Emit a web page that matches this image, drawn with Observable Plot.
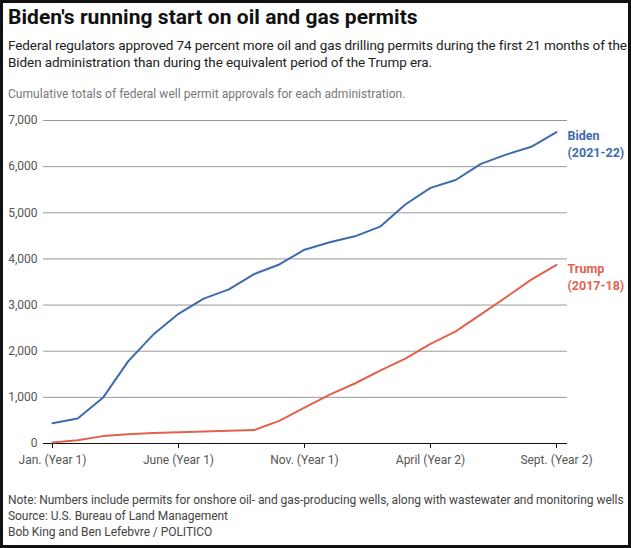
<!DOCTYPE html>
<html>
<head>
<meta charset="utf-8">
<script src="https://cdn.jsdelivr.net/npm/d3@7"></script>
<script src="https://cdn.jsdelivr.net/npm/@observablehq/plot@0.6"></script>
<style>
  html, body { margin: 0; padding: 0; background: #fff; }
  #frame { position: relative; width: 631px; height: 548px; box-sizing: border-box; border: 3px solid #111; overflow: hidden; font-family: Roboto, "Noto Sans", sans-serif; }
  .t { position: absolute; left: 5px; white-space: nowrap; }
  #title { top: 2px; font-size: 21px; font-weight: 700; color: #111; letter-spacing: 0.05px; }
  #sub { top: 34px; font-size: 13.5px; line-height: 17px; color: #222; letter-spacing: -0.08px; }
  #cap { top: 84px; font-size: 12px; color: #777; letter-spacing: 0.05px; }
  #chart { position: absolute; left: -3px; top: 99px; width: 631px; height: 373px; }
  #chart svg { max-width: none !important; display: block; }
  #foot { top: 489px; font-size: 12px; line-height: 16px; color: #444; letter-spacing: -0.05px; }
</style>
</head>
<body>
<div id="frame">
  <div class="t" id="title">Biden's running start on oil and gas permits</div>
  <div class="t" id="sub">Federal regulators approved 74 percent more oil and gas drilling permits during the first 21 months of the<br>Biden administration than during the equivalent period of the Trump era.</div>
  <div class="t" id="cap">Cumulative totals of federal well permit approvals for each administration.</div>
  <div id="chart"></div>
  <div class="t" id="foot">Note: Numbers include permits for onshore oil- and gas-producing wells, along with wastewater and monitoring wells<br>Source: U.S. Bureau of Land Management<br>Bob King and Ben Lefebvre / POLITICO</div>
</div>
<script>
const months = d3.range(21); // Jan. (Year 1) .. Sept. (Year 2)
const biden = [440, 540, 990, 1780, 2360, 2810, 3140, 3340, 3670, 3880, 4200, 4360, 4490, 4700, 5180, 5540, 5710, 6060, 6260, 6430, 6750];
const trump = [20, 70, 160, 200, 225, 245, 260, 275, 290, 490, 780, 1060, 1300, 1580, 1840, 2160, 2430, 2800, 3170, 3550, 3870];
const tickMonths = [0, 5, 10, 15, 20];
const tickLabels = ["Jan. (Year 1)", "June (Year 1)", "Nov. (Year 1)", "April (Year 2)", "Sept. (Year 2)"];
const yTicks = [0, 1000, 2000, 3000, 4000, 5000, 6000, 7000];
const seriesNames = ["Biden\n(2021-22)", "Trump\n(2017-18)"];
const colors = ["#3d6bae", "#e2614c"];

const rows = [];
months.forEach((m, i) => {
  rows.push({month: m, value: biden[i], s: 0});
  rows.push({month: m, value: trump[i], s: 1});
});
const ends = [
  {month: 20, value: biden[20], label: seriesNames[0], color: colors[0]},
  {month: 20, value: trump[20], label: seriesNames[1], color: colors[1]}
];

const plot = Plot.plot({
  width: 631,
  height: 373,
  marginLeft: 43,
  marginRight: 64,
  marginTop: 18,
  marginBottom: 32,
  style: {fontFamily: "Roboto, sans-serif", fontSize: "12px", color: "#555", background: "transparent"},
  x: {domain: [-0.357, 20.437], ticks: tickMonths, tickFormat: (d) => tickLabels[tickMonths.indexOf(d)], tickSize: 5, tickPadding: 7, label: null},
  y: {domain: [0, 7000], ticks: yTicks, tickFormat: d3.format(","), tickSize: 0, tickPadding: 6, label: null},
  marks: [
    Plot.ruleY(yTicks.filter(d => d > 0), {stroke: "#999", strokeWidth: 1}),
    Plot.ruleY([0], {stroke: "#111", strokeWidth: 1}),
    Plot.line(rows, {x: "month", y: "value", z: "s", stroke: (d) => colors[d.s], strokeWidth: 2}),
    Plot.text(ends, {x: "month", y: "value", text: "label", fill: "color", textAnchor: "start", lineAnchor: "top", dx: 11, dy: -4, fontWeight: 700, fontSize: 12.5, lineHeight: 1.35})
  ]
});
d3.select(plot).selectAll("[aria-label='x-axis tick']").attr("stroke", "#111");
document.getElementById("chart").appendChild(plot);
</script>
</body>
</html>
